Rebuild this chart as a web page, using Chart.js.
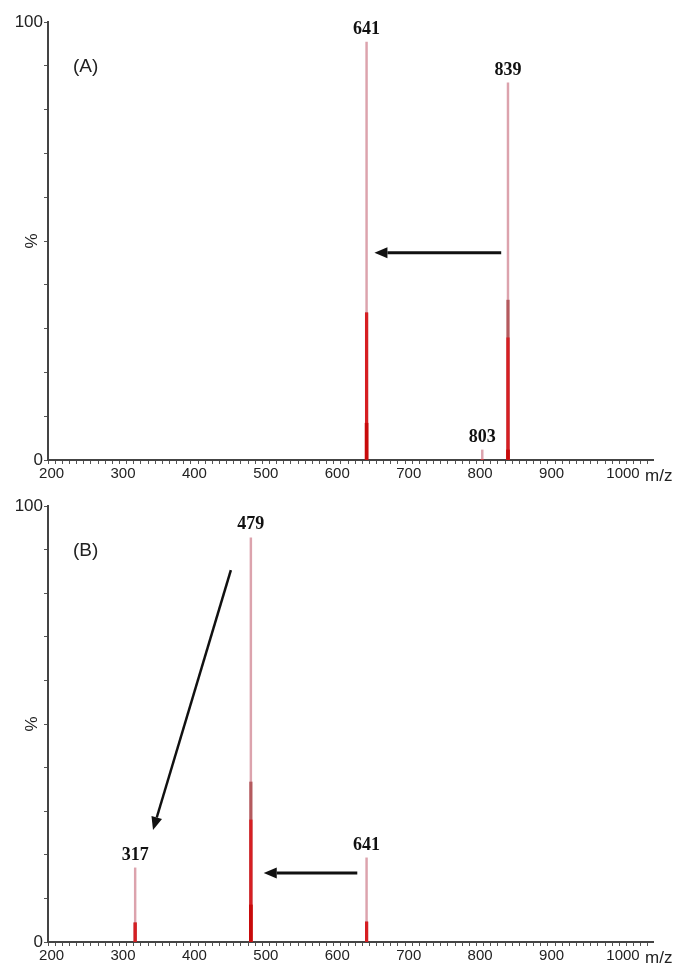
<!DOCTYPE html>
<html>
<head>
<meta charset="utf-8">
<title>Spectres MS</title>
<script src="https://cdn.jsdelivr.net/npm/chart.js@4.4.1/dist/chart.umd.min.js"></script>
<style>
    body { margin: 0; background: #fff; }
    canvas { display: block; }
</style>
</head>
<body>
<canvas id="spectreA" width="678" height="483"></canvas>
<canvas id="spectreB" width="678" height="483"></canvas>
<script>
// panneau (A)
let mzA = [641, 803, 839];
let hauteurA = [95.4, 2.3, 86.1];
let milieuA = [33.6, 0, 36.5];
let rougeA = [33.6, 0, 27.9];
let baseA = [8.4, 0, 2.3];

// panneau (B)
let mzB = [317, 479, 641];
let hauteurB = [17.0, 92.7, 19.3];
let milieuB = [4.4, 36.7, 4.6];
let rougeB = [4.4, 28.0, 4.6];
let baseB = [0, 8.5, 0];

let xMin = 200;
let xMax = 1037;
let yTicks = [0, 100];
let xTicksLabels = [200, 300, 400, 500, 600, 700, 800, 900, 1000];

// fleches (debut x,y -> pointe x,y) en coordonnees m/z et %
let flechesA = [[829.5, 47.3, 652, 47.3, 3]];
let flechesB = [[451, 85.3, 342, 25.7, 2.5], [628, 15.8, 497, 15.8, 3]];

function points(mz, valeurs) {
    let pts = [];
    for (let i = 0; i < mz.length; i++) {
        pts.push({ x: mz[i], y: valeurs[i] });
    }
    return pts;
}

function dessinerFleche(ctx, x1, y1, x2, y2, epaisseur) {
    let angle = Math.atan2(y2 - y1, x2 - x1);
    let longueur = 13;
    let demi = 5.5;
    let bx = x2 - longueur * Math.cos(angle);
    let by = y2 - longueur * Math.sin(angle);
    ctx.save();
    ctx.strokeStyle = "#111";
    ctx.fillStyle = "#111";
    ctx.lineWidth = epaisseur;
    ctx.beginPath();
    ctx.moveTo(x1, y1);
    ctx.lineTo(bx, by);
    ctx.stroke();
    ctx.beginPath();
    ctx.moveTo(x2, y2);
    ctx.lineTo(bx + demi * Math.sin(angle), by - demi * Math.cos(angle));
    ctx.lineTo(bx - demi * Math.sin(angle), by + demi * Math.cos(angle));
    ctx.closePath();
    ctx.fill();
    ctx.restore();
}

function creerSpectre(id, mz, hauteur, milieu, rouge, base, etiquette, fleches, padTop, hautX) {
    let ctx = document.getElementById(id).getContext("2d");

    let annotations = {
        id: "annotations",
        afterDatasetsDraw: function (chart) {
            let c = chart.ctx;
            let x = chart.scales.x;
            let y = chart.scales.y;
            let zone = chart.chartArea;
            c.save();
            // valeurs m/z au dessus des pics
            c.font = "bold 18px 'Liberation Serif', 'Times New Roman', serif";
            c.fillStyle = "#111";
            c.textAlign = "center";
            c.textBaseline = "bottom";
            for (let i = 0; i < mz.length; i++) {
                c.fillText(String(mz[i]), x.getPixelForValue(mz[i]), y.getPixelForValue(hauteur[i]) - 4);
            }
            // (A) / (B)
            c.font = "19px 'Liberation Sans', Arial, sans-serif";
            c.textAlign = "left";
            c.textBaseline = "middle";
            c.fillStyle = "#222";
            c.fillText(etiquette, 73, zone.top + 45);
            // m/z
            c.font = "17px 'Liberation Sans', Arial, sans-serif";
            c.textBaseline = "top";
            c.fillText("m/z", zone.right - 8, zone.bottom + 8);
            // %
            c.save();
            c.translate(32, (zone.top + zone.bottom) / 2);
            c.rotate(-Math.PI / 2);
            c.textAlign = "center";
            c.textBaseline = "middle";
            c.fillText("%", 0, 0);
            c.restore();
            c.restore();
            // fleches
            for (let f of fleches) {
                dessinerFleche(c, x.getPixelForValue(f[0]), y.getPixelForValue(f[1]),
                    x.getPixelForValue(f[2]), y.getPixelForValue(f[3]), f[4]);
            }
        }
    };

    return new Chart(ctx, {
        type: "bar",
        data: {
            datasets: [
                { data: points(mz, base), backgroundColor: "#c80a0a", barThickness: 3 },
                { data: points(mz, rouge), backgroundColor: "#d61e22", barThickness: 2.5 },
                { data: points(mz, milieu), backgroundColor: "#b45a5e", barThickness: 2.5 },
                { data: points(mz, hauteur), backgroundColor: "#dca3ad", barThickness: 1.8 }
            ]
        },
        options: {
            responsive: false,
            animation: false,
            devicePixelRatio: 1,
            layout: { padding: { top: padTop, right: 25, left: 0, bottom: 0 } },
            plugins: { legend: { display: false }, tooltip: { enabled: false } },
            datasets: { bar: { grouped: false, borderWidth: 0 } },
            scales: {
                x: {
                    type: "linear",
                    min: xMin,
                    max: xMax,
                    afterFit: function (scale) { scale.height = hautX; },
                    grid: { display: true, drawOnChartArea: false, drawTicks: true, tickLength: 4, color: "#555" },
                    border: { display: true, color: "#444", width: 2 },
                    ticks: {
                        stepSize: 10,
                        includeBounds: false,
                        autoSkip: false,
                        maxRotation: 0,
                        padding: 1,
                        color: "#222",
                        font: { family: "'Liberation Sans', Arial, sans-serif", size: 15 },
                        callback: function (v) { return xTicksLabels.includes(v) ? String(v) : ""; }
                    }
                },
                y: {
                    min: 0,
                    max: 100,
                    afterFit: function (scale) { scale.width = 48; },
                    grid: { display: true, drawOnChartArea: false, drawTicks: true, tickLength: 4, color: "#555" },
                    border: { display: true, color: "#444", width: 2 },
                    ticks: {
                        stepSize: 10,
                        padding: 1,
                        color: "#222",
                        font: { family: "'Liberation Sans', Arial, sans-serif", size: 17 },
                        callback: function (v) { return yTicks.includes(v) ? String(v) : ""; }
                    }
                }
            }
        },
        plugins: [annotations]
    });
}

creerSpectre("spectreA", mzA, hauteurA, milieuA, rougeA, baseA, "(A)", flechesA, 22, 23);
creerSpectre("spectreB", mzB, hauteurB, milieuB, rougeB, baseB, "(B)", flechesB, 23, 24);
</script>
</body>
</html>
